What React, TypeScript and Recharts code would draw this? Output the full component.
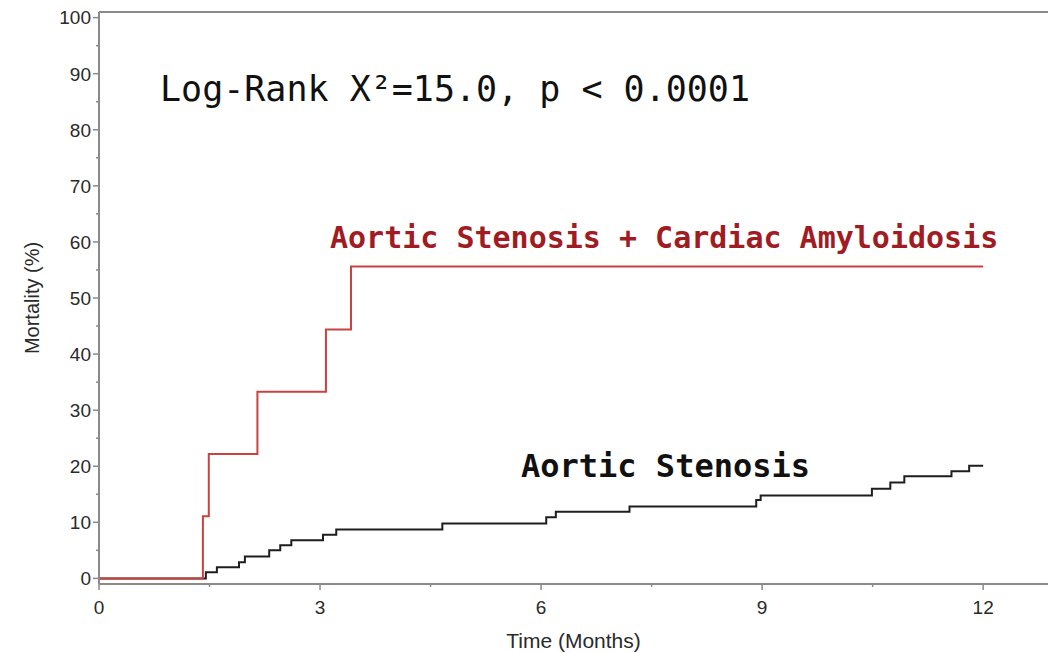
import { LineChart, Line, XAxis, YAxis, ReferenceLine } from "recharts";

// Kaplan-Meier style cumulative mortality
const ascaTime = [0, 1.41, 1.49, 2.15, 3.08, 3.42, 12];
const ascaMortality = [0, 11.1, 22.2, 33.3, 44.4, 55.6, 55.6];

const asTime = [
  0, 1.45, 1.6, 1.9, 1.98, 2.31, 2.46, 2.61, 3.04, 3.22, 4.66, 6.07, 6.2, 7.2,
  8.92, 8.98, 10.49, 10.74, 10.93, 11.57, 11.81, 12,
];
const asMortality = [
  0, 1.1, 2.0, 2.9, 3.9, 5.0, 5.9, 6.8, 7.8, 8.7, 9.8, 10.9, 11.9, 12.8, 14.0,
  14.8, 16.0, 17.1, 18.2, 19.1, 20.1, 20.1,
];

const xTicks = [0, 1.5, 3, 4.5, 6, 7.5, 9, 10.5, 12];
const yTicks = [0, 5, 10, 15, 20, 25, 30, 35, 40, 45, 50, 55, 60, 65, 70, 75, 80, 85, 90, 95, 100];

const ascaData = ascaTime.map((t, i) => ({ t, v: ascaMortality[i] }));
const asData = asTime.map((t, i) => ({ t, v: asMortality[i] }));

const AXIS = "#8a8a8a";
const SANS = "'Liberation Sans', Arial, sans-serif";
const MONO = "'DejaVu Sans Mono', monospace";

const XTick = ({ x, y, payload }: any) => {
  const major = payload.value % 3 === 0;
  return (
    <g>
      <line x1={x} x2={x} y1={y} y2={y + (major ? 6 : 3)} stroke={AXIS} strokeWidth={1.5} />
      {major && (
        <text x={x} y={y + 30} textAnchor="middle" fontSize={19} fontFamily={SANS} fill="#2a2a2a">
          {payload.value}
        </text>
      )}
    </g>
  );
};

const YTick = ({ x, y, payload }: any) => {
  const major = payload.value % 10 === 0;
  return (
    <g>
      <line x1={x - (major ? 6 : 3)} x2={x} y1={y} y2={y} stroke={AXIS} strokeWidth={1.5} />
      {major && (
        <text x={x - 8} y={y} dy="0.36em" textAnchor="end" fontSize={19} fontFamily={SANS} fill="#2a2a2a">
          {payload.value}
        </text>
      )}
    </g>
  );
};

export default function App() {
  return (
    <div style={{ position: "absolute", left: 0, top: 0, width: 1048, height: 653, background: "#fff" }}>
      <LineChart width={1048} height={653} margin={{ top: 12, right: 0, bottom: 0, left: 0 }}>
        <XAxis
          type="number"
          dataKey="t"
          domain={[0, 12.88]}
          ticks={xTicks}
          height={69}
          tickSize={0}
          tickMargin={0}
          tickLine={false}
          tick={<XTick />}
          axisLine={{ stroke: AXIS, strokeWidth: 2 }}
          label={{ value: "Time (Months)", position: "insideBottom", offset: 5, fontSize: 21, fontFamily: SANS, fill: "#2a2a2a" }}
        />
        <YAxis
          type="number"
          domain={[-1, 101]}
          ticks={yTicks}
          width={99}
          tickSize={0}
          tickMargin={0}
          tickLine={false}
          tick={<YTick />}
          axisLine={{ stroke: AXIS, strokeWidth: 2 }}
          label={{ value: "Mortality (%)", angle: -90, position: "insideLeft", offset: 32, textAnchor: "middle", fontSize: 20, fontFamily: SANS, fill: "#2a2a2a" }}
        />
        <ReferenceLine y={101} stroke={AXIS} strokeWidth={2} />
        <Line data={asData} dataKey="v" type="stepAfter" stroke="#1e1e1e" strokeWidth={2} dot={false} isAnimationActive={false} />
        <Line data={ascaData} dataKey="v" type="stepAfter" stroke="#c8423f" strokeWidth={2} dot={false} isAnimationActive={false} />
      </LineChart>
      <svg width={1048} height={653} style={{ position: "absolute", left: 0, top: 0, pointerEvents: "none" }}>
        <text x={160} y={101} fontSize={35} fontFamily={MONO} fill="#111">
          Log-Rank X²=15.0, p &lt; 0.0001
        </text>
        <text x={330} y={248} fontSize={30} fontWeight="bold" fontFamily={MONO} fill="#a01c22">
          Aortic Stenosis + Cardiac Amyloidosis
        </text>
        <text x={521} y={477} fontSize={32} fontWeight="bold" fontFamily={MONO} fill="#111">
          Aortic Stenosis
        </text>
      </svg>
    </div>
  );
}
